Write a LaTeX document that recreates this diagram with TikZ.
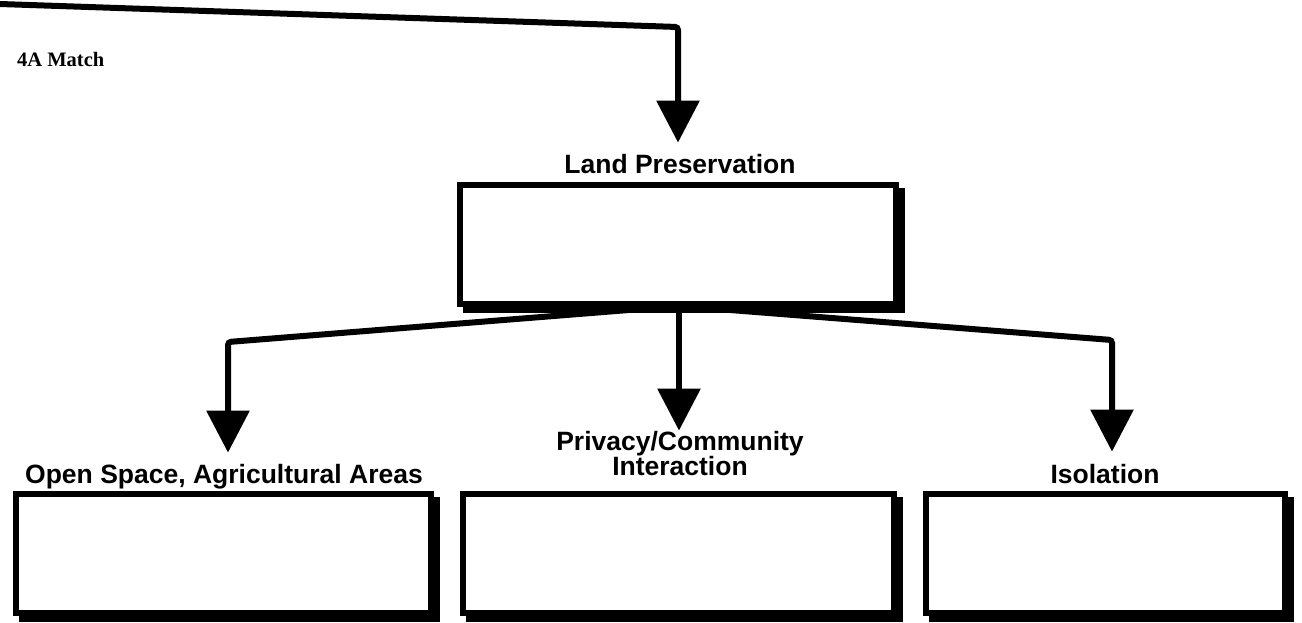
\documentclass[tikz,border=0pt]{standalone}
\usepackage{fontspec}
\setmainfont{Liberation Serif}
\newfontfamily\labelfont{Liberation Sans}
\usetikzlibrary{arrows.meta,shadows}

\begin{document}
\begin{tikzpicture}[x=1pt,y=-1pt,
  flow/.style={line width=6pt, rounded corners=3pt, -{Triangle[width=42pt,length=42pt]}},
  panel/.style={draw, line width=6pt, fill=white, inner sep=0pt,
    drop shadow={shadow xshift=6pt, shadow yshift=-6pt, opacity=1, fill=black, draw=black}},
  caption/.style={font=\labelfont\bfseries\fontsize{26.5}{25}\selectfont,
    inner sep=0pt, align=center, anchor=base},
]
\fill[white] (0,0) rectangle (1302,622);
\useasboundingbox (0,0) rectangle (1302,622);

% headings
\node[font=\bfseries\fontsize{20.5}{22}\selectfont, anchor=base west, inner sep=0pt] (tag) at (17,66) {4A Match};
\node[caption] (lpt) at (680,173) {Land Preservation};
\node[caption] (ost) at (224,483) {Open Space, Agricultural Areas};
\node[caption] (pct) at (680,475) {Privacy/Community\\Interaction};
\node[caption] (isot) at (1105,483) {Isolation};

% bends of the connectors
\coordinate (feed) at (0,4);
\coordinate (bendT) at (678,27);
\coordinate (root) at (679,306);
\coordinate (bendL) at (228,342);
\coordinate (bendR) at (1112,340);

% connectors
\draw[flow, shorten >=11pt] (feed) -- (bendT) -- (bendT |- lpt.north);
\draw[flow, shorten >=11pt] (root) -- (bendL) -- (bendL |- ost.north);
\draw[flow] (root) -- (root |- pct.north);
\draw[flow, shorten >=12pt] (root) -- (bendR) -- (bendR |- isot.north);

% boxes
\node[panel, minimum width=436pt, minimum height=119pt] (lp) at (678,244.5) {};
\node[panel, minimum width=415pt, minimum height=119pt] (os) at (223.5,553.5) {};
\node[panel, minimum width=431pt, minimum height=119pt] (pc) at (678.5,553.5) {};
\node[panel, minimum width=359pt, minimum height=119pt] (iso) at (1105.5,553.5) {};
\end{tikzpicture}
\end{document}
